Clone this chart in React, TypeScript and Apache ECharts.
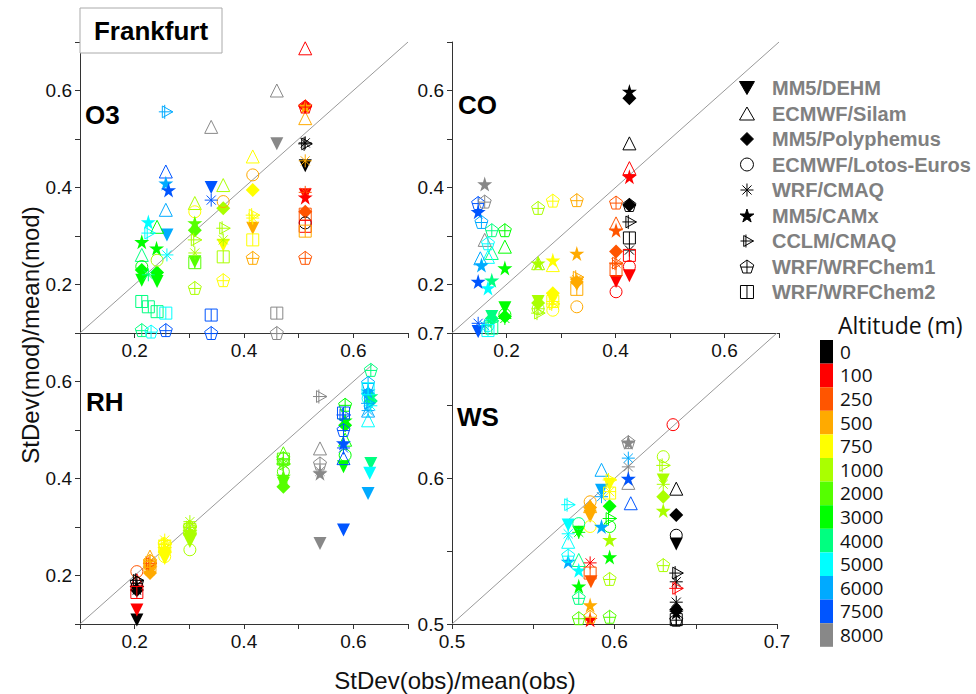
import React, { useEffect, useRef } from 'react';
import * as echarts from 'echarts';

const MODELS = ['MM5/DEHM', 'ECMWF/Silam', 'MM5/Polyphemus', 'ECMWF/Lotos-Euros', 'WRF/CMAQ', 'MM5/CAMx', 'CCLM/CMAQ', 'WRF/WRFChem1', 'WRF/WRFChem2'];
const ALTITUDES = [0, 100, 250, 500, 750, 1000, 2000, 3000, 4000, 5000, 6000, 7500, 8000];
const ALT_COLORS = ['#000000', '#ff0000', '#ff5500', '#ffaa00', '#ffff00', '#aaff00', '#55ff00', '#00ff00', '#00ff80', '#00ffff', '#00aaff', '#0055ff', '#888888'];
const PANEL_NAMES = ['O3', 'CO', 'RH', 'WS'];

// [obs, mod, altitude] per model (same order as MODELS)
const O3_DATA = [
  [[0.512, 0.445, 0], [0.512, 0.385, 100], [0.46, 0.49, 8000], [0.416, 0.316, 500], [0.362, 0.281, 750], [0.34, 0.40, 7500], [0.31, 0.247, 2000], [0.259, 0.302, 6000], [0.241, 0.206, 3000], [0.213, 0.209, 3000]],
  [[0.512, 0.687, 100], [0.512, 0.543, 500], [0.46, 0.60, 8000], [0.416, 0.464, 750], [0.362, 0.405, 1000], [0.34, 0.525, 8000], [0.31, 0.368, 1000], [0.257, 0.433, 7500], [0.257, 0.354, 6000], [0.241, 0.319, 3000], [0.213, 0.261, 4000]],
  [[0.512, 0.567, 100], [0.512, 0.35, 250], [0.416, 0.395, 750], [0.362, 0.357, 1000], [0.31, 0.312, 2000], [0.241, 0.225, 3000], [0.213, 0.23, 3000]],
  [[0.512, 0.327, 0], [0.416, 0.426, 500], [0.362, 0.371, 500], [0.31, 0.35, 750], [0.241, 0.25, 1000], [0.213, 0.237, 3000]],
  [[0.512, 0.492, 0], [0.512, 0.455, 500], [0.512, 0.39, 250], [0.416, 0.337, 750], [0.362, 0.292, 1000], [0.34, 0.374, 7500], [0.31, 0.265, 1000], [0.259, 0.261, 5000], [0.225, 0.22, 4000]],
  [[0.512, 0.567, 500], [0.512, 0.38, 100], [0.31, 0.327, 2000], [0.257, 0.409, 6000], [0.262, 0.395, 7500], [0.225, 0.329, 5000], [0.213, 0.288, 3000], [0.24, 0.275, 3000]],
  [[0.512, 0.49, 0], [0.416, 0.343, 750], [0.362, 0.316, 1000], [0.31, 0.292, 1000], [0.257, 0.556, 6000], [0.225, 0.306, 5000]],
  [[0.512, 0.567, 100], [0.512, 0.255, 250], [0.46, 0.10, 8000], [0.416, 0.255, 500], [0.362, 0.209, 750], [0.34, 0.10, 7500], [0.31, 0.193, 1000], [0.257, 0.106, 7500], [0.213, 0.106, 4000], [0.23, 0.103, 5000]],
  [[0.512, 0.345, 250], [0.512, 0.32, 100], [0.512, 0.31, 500], [0.46, 0.141, 8000], [0.416, 0.292, 750], [0.362, 0.257, 1000], [0.34, 0.137, 7500], [0.31, 0.245, 2000], [0.213, 0.165, 4000], [0.225, 0.154, 4000], [0.241, 0.144, 4000], [0.257, 0.141, 5000]],
];

const CO_DATA = [
  [[0.4255, 0.218, 100], [0.401, 0.206, 100], [0.329, 0.20, 500], [0.285, 0.17, 750], [0.258, 0.165, 1000], [0.197, 0.152, 3000], [0.173, 0.134, 4000], [0.148, 0.103, 7500]],
  [[0.4255, 0.491, 0], [0.4255, 0.44, 100], [0.401, 0.326, 250], [0.285, 0.24, 750], [0.258, 0.244, 1000], [0.197, 0.278, 3000], [0.173, 0.265, 4000], [0.166, 0.257, 5000], [0.152, 0.254, 6000], [0.16, 0.292, 8000]],
  [[0.4255, 0.584, 0], [0.4255, 0.364, 0], [0.401, 0.268, 250], [0.329, 0.205, 500], [0.285, 0.182, 750], [0.258, 0.162, 1000], [0.197, 0.134, 3000], [0.173, 0.13, 4000]],
  [[0.4255, 0.237, 100], [0.401, 0.185, 100], [0.329, 0.154, 500], [0.285, 0.147, 750], [0.258, 0.15, 1000], [0.197, 0.138, 3000], [0.166, 0.115, 5000]],
  [[0.4255, 0.271, 0], [0.401, 0.244, 250], [0.329, 0.21, 500], [0.285, 0.165, 750], [0.258, 0.15, 1000], [0.197, 0.13, 3000], [0.148, 0.12, 7500], [0.16, 0.115, 6000]],
  [[0.4255, 0.598, 0], [0.4255, 0.422, 100], [0.401, 0.312, 250], [0.329, 0.264, 500], [0.285, 0.25, 750], [0.258, 0.244, 1000], [0.197, 0.234, 3000], [0.173, 0.209, 4000], [0.166, 0.193, 5000], [0.154, 0.24, 6000], [0.148, 0.206, 7500], [0.148, 0.35, 7500], [0.16, 0.407, 8000]],
  [[0.4255, 0.329, 0], [0.401, 0.244, 250], [0.329, 0.215, 500], [0.285, 0.16, 750], [0.258, 0.141, 1000], [0.173, 0.125, 4000]],
  [[0.4255, 0.364, 0], [0.401, 0.369, 250], [0.329, 0.374, 500], [0.285, 0.373, 750], [0.258, 0.358, 1000], [0.197, 0.312, 3000], [0.173, 0.312, 4000], [0.166, 0.285, 5000], [0.154, 0.329, 6000], [0.148, 0.368, 7500], [0.16, 0.371, 8000]],
  [[0.4255, 0.296, 0], [0.4255, 0.26, 100], [0.401, 0.23, 250], [0.329, 0.19, 500], [0.285, 0.165, 750], [0.173, 0.11, 4000], [0.166, 0.105, 5000]],
];

const RH_DATA = [
  [[0.204, 0.108, 0], [0.204, 0.129, 100], [0.228, 0.21, 500], [0.255, 0.235, 750], [0.301, 0.27, 1000], [0.472, 0.39, 2000], [0.539, 0.266, 8000], [0.582, 0.424, 3000], [0.582, 0.294, 7500], [0.632, 0.431, 4000], [0.63, 0.411, 5000], [0.627, 0.369, 6000]],
  [[0.204, 0.19, 100], [0.228, 0.239, 500], [0.255, 0.26, 750], [0.301, 0.30, 1000], [0.472, 0.452, 2000], [0.539, 0.462, 8000], [0.582, 0.442, 7500], [0.585, 0.48, 3000], [0.627, 0.52, 5000], [0.627, 0.54, 6000]],
  [[0.204, 0.17, 0], [0.228, 0.205, 500], [0.255, 0.25, 750], [0.301, 0.285, 1000], [0.472, 0.383, 2000], [0.585, 0.51, 3000], [0.632, 0.56, 4000], [0.627, 0.575, 6000]],
  [[0.204, 0.208, 250], [0.228, 0.22, 500], [0.255, 0.239, 750], [0.301, 0.253, 1000], [0.472, 0.414, 2000], [0.585, 0.448, 3000], [0.627, 0.565, 5000]],
  [[0.204, 0.18, 100], [0.228, 0.23, 500], [0.255, 0.273, 750], [0.301, 0.311, 1000], [0.472, 0.43, 2000], [0.539, 0.415, 8000], [0.582, 0.463, 7500], [0.627, 0.54, 6000], [0.632, 0.55, 5000]],
  [[0.204, 0.175, 0], [0.228, 0.215, 500], [0.255, 0.255, 750], [0.301, 0.29, 1000], [0.472, 0.404, 2000], [0.539, 0.411, 8000], [0.582, 0.473, 7500], [0.585, 0.52, 3000], [0.632, 0.57, 4000], [0.627, 0.58, 6000]],
  [[0.204, 0.19, 0], [0.228, 0.225, 250], [0.255, 0.265, 750], [0.301, 0.30, 1000], [0.472, 0.43, 2000], [0.539, 0.569, 8000], [0.582, 0.531, 7500], [0.627, 0.555, 6000]],
  [[0.204, 0.185, 0], [0.228, 0.23, 500], [0.255, 0.265, 750], [0.301, 0.30, 1000], [0.472, 0.442, 2000], [0.539, 0.431, 8000], [0.585, 0.552, 3000], [0.582, 0.50, 7500], [0.632, 0.624, 4000], [0.627, 0.597, 6000]],
  [[0.204, 0.165, 100], [0.228, 0.22, 500], [0.255, 0.26, 750], [0.301, 0.295, 1000], [0.472, 0.44, 2000], [0.582, 0.535, 7500], [0.627, 0.585, 5000]],
];

const WS_DATA = [
  [[0.638, 0.555, 0], [0.63, 0.599, 1000], [0.585, 0.574, 500], [0.5855, 0.529, 250], [0.597, 0.596, 750], [0.592, 0.592, 6000], [0.578, 0.563, 3000], [0.5715, 0.568, 5000]],
  [[0.638, 0.593, 0], [0.61, 0.583, 7500], [0.6085, 0.597, 8000], [0.592, 0.606, 6000], [0.585, 0.581, 500], [0.578, 0.544, 4000], [0.5715, 0.5565, 5000]],
  [[0.638, 0.575, 0], [0.638, 0.51, 0], [0.63, 0.5875, 1000], [0.597, 0.581, 3000], [0.585, 0.58, 500]],
  [[0.638, 0.561, 0], [0.636, 0.637, 100], [0.63, 0.615, 1000], [0.597, 0.567, 3000], [0.585, 0.584, 500], [0.585, 0.567, 750], [0.578, 0.569, 4000]],
  [[0.638, 0.529, 0], [0.638, 0.515, 0], [0.63, 0.596, 1000], [0.6085, 0.608, 8000], [0.6085, 0.614, 6000], [0.597, 0.591, 750], [0.592, 0.5875, 6000], [0.585, 0.542, 100], [0.578, 0.563, 3000], [0.5715, 0.562, 5000]],
  [[0.638, 0.508, 0], [0.63, 0.578, 1000], [0.6085, 0.625, 8000], [0.6085, 0.60, 7500], [0.597, 0.558, 1000], [0.597, 0.546, 3000], [0.592, 0.567, 6000], [0.585, 0.513, 500], [0.585, 0.503, 100], [0.578, 0.526, 3000], [0.5715, 0.543, 6000], [0.578, 0.537, 5000]],
  [[0.638, 0.535, 0], [0.638, 0.5245, 100], [0.63, 0.609, 1000], [0.597, 0.5725, 3000], [0.5715, 0.582, 5000], [0.597, 0.599, 750]],
  [[0.638, 0.503, 0], [0.63, 0.5405, 1000], [0.6085, 0.625, 8000], [0.597, 0.531, 1000], [0.597, 0.505, 2000], [0.585, 0.505, 500], [0.578, 0.504, 2000], [0.5715, 0.547, 5000], [0.578, 0.518, 4000]],
  [[0.638, 0.503, 0], [0.585, 0.535, 250], [0.597, 0.59, 750]],
];

// axis ranges: [min, max, tick interval]
const AXIS_RANGES = [[0.1, 0.7, 0.1], [0.1, 0.7, 0.1], [0.1, 0.7, 0.1], [0.5, 0.7, 0.05]];
const DIAGONALS = [[0.1, 0.7], [0.1, 0.7], [0.1, 0.636], [0.5, 0.7]];

const STAR = 'path://M50,0 L61,35 L98,35 L68,57 L79,91 L50,70 L21,91 L32,57 L2,35 L39,35 Z';
const SYMBOLS = [
  'path://M0,0 L100,0 L50,87 Z',
  'path://M50,0 L100,87 L0,87 Z',
  'path://M50,0 L100,50 L50,100 L0,50 Z',
  'path://M0,50 A50,50 0 1 1 100,50 A50,50 0 1 1 0,50 Z',
  'path://M50,0 L50,100 M0,50 L100,50 M15,15 L85,85 M85,15 L15,85',
  STAR,
  'path://M25,8 L100,50 L25,92 Z M0,50 L100,50 M42,0 L42,100',
  'path://M50,0 L98,35 L79,92 L21,92 L2,35 Z M50,0 L50,92 M6,50 L94,50',
  'path://M0,0 L100,0 L100,100 L0,100 Z M50,0 L50,100',
];
const FILLED = [true, false, true, false, false, true, false, false, false];
const SIZES = [13, 13, 14, 12, 13, 15, 14, 13, 12];

const GRIDS = [
  { left: 80, top: 42, width: 328, height: 291 },
  { left: 452, top: 42, width: 327, height: 291 },
  { left: 80, top: 333, width: 328, height: 291 },
  { left: 452, top: 333, width: 325, height: 291 },
];
const PANEL_LABEL_POS = [[85, 115], [458, 105], [86, 402], [457, 417]];

function colorOf(a: number) {
  const i = ALTITUDES.indexOf(a);
  return ALT_COLORS[i < 0 ? 0 : i];
}

const AX_FONT = 'Liberation Sans, Arial, sans-serif';

function buildOption() {
  const panels = [O3_DATA, CO_DATA, RH_DATA, WS_DATA];
  const xAxis: any[] = [];
  const yAxis: any[] = [];
  const series: any[] = [];

  panels.forEach((pd, gi) => {
    const [mn, mx, iv] = AXIS_RANGES[gi];
    const isWS = gi === 3;
    const fmt = (v: number) => {
      if (isWS) {
        return Math.abs(v * 10 - Math.round(v * 10)) < 1e-6 ? v.toFixed(1) : '';
      }
      const k = Math.round(v * 10);
      return k % 2 === 0 ? v.toFixed(1) : '';
    };
    const common = {
      type: 'value', gridIndex: gi, min: mn, max: mx, interval: iv,
      axisLine: { show: true, onZero: false, lineStyle: { color: '#333', width: 1 } },
      axisTick: { show: true, length: 5, inside: false, lineStyle: { color: '#333' } },
      splitLine: { show: false },
    };
    xAxis.push({
      ...common,
      axisLabel: { formatter: fmt, fontSize: 19, fontFamily: AX_FONT, color: '#111', margin: 8, showMinLabel: true, showMaxLabel: true },
    });
    yAxis.push({
      ...common,
      axisLabel: { formatter: fmt, fontSize: 19, fontFamily: AX_FONT, color: '#111', margin: 8, showMinLabel: true, showMaxLabel: true },
    });
    const [d0, d1] = DIAGONALS[gi];
    series.push({
      type: 'line', name: 'diag' + gi, xAxisIndex: gi, yAxisIndex: gi, silent: true,
      data: [[d0, d0], [d1, d1]], showSymbol: false, symbol: 'none',
      lineStyle: { color: '#999', width: 1 }, z: 1,
    });
    pd.forEach((pts, mi) => {
      series.push({
        type: 'scatter', name: MODELS[mi], xAxisIndex: gi, yAxisIndex: gi,
        symbol: SYMBOLS[mi], symbolSize: SIZES[mi], z: 2,
        itemStyle: FILLED[mi]
          ? { color: '#000', borderColor: '#000', borderWidth: 0, opacity: 1 }
          : { color: 'rgba(0,0,0,0)', borderColor: '#000', borderWidth: 1, opacity: 1 },
        emphasis: { disabled: true },
        data: pts.map(([x, y, a]) => ({
          value: [x, y, a],
          itemStyle: FILLED[mi] ? { color: colorOf(a) } : { borderColor: colorOf(a) },
        })),
      });
    });
  });

  const dummyIdx = series.length;
  series.push({ type: 'scatter', name: 'altitude', xAxisIndex: 0, yAxisIndex: 0, data: [] });

  const graphic: any[] = [
    {
      type: 'rect', shape: { x: 80, y: 8, width: 142, height: 45 }, z: 100,
      style: { fill: '#fff', stroke: '#aaa', lineWidth: 1 },
    },
    {
      type: 'text', x: 151, y: 31, z: 101,
      style: { text: 'Frankfurt', fontSize: 26, fontWeight: 'bold', fontFamily: AX_FONT, fill: '#000', textAlign: 'center', textVerticalAlign: 'middle' },
    },
    {
      type: 'text', x: 30, y: 335, rotation: Math.PI / 2, z: 100,
      style: { text: 'StDev(mod)/mean(mod)', fontSize: 24, fontFamily: AX_FONT, fill: '#111', textAlign: 'center', textVerticalAlign: 'middle' },
    },
    {
      type: 'text', x: 455, y: 680, z: 100,
      style: { text: 'StDev(obs)/mean(obs)', fontSize: 24, fontFamily: AX_FONT, fill: '#111', textAlign: 'center', textVerticalAlign: 'middle' },
    },
    {
      type: 'text', x: 838, y: 325, z: 100,
      style: { text: 'Altitude (m)', fontSize: 23, fontFamily: 'Open Sans, sans-serif', fill: '#111', textAlign: 'left', textVerticalAlign: 'middle' },
    },
  ];
  PANEL_NAMES.forEach((n, i) => {
    graphic.push({
      type: 'text', x: PANEL_LABEL_POS[i][0], y: PANEL_LABEL_POS[i][1], z: 100,
      style: { text: n, fontSize: 26, fontWeight: 'bold', fontFamily: AX_FONT, fill: '#000', textAlign: 'left', textVerticalAlign: 'middle' },
    });
  });

  return {
    animation: false,
    backgroundColor: '#fff',
    grid: GRIDS.map((g) => ({ ...g, containLabel: false, show: false })),
    xAxis,
    yAxis,
    series,
    legend: {
      data: MODELS, orient: 'vertical', left: 734, top: 73,
      itemWidth: 40, itemHeight: 13, itemGap: 5.5, symbolKeepAspect: true,
      selectedMode: false,
      itemStyle: { borderWidth: 1 },
      textStyle: { fontFamily: AX_FONT, fontSize: 20, fontWeight: 'bold', color: '#808080' },
    },
    visualMap: {
      type: 'piecewise', seriesIndex: dummyIdx, dimension: 2, orient: 'vertical', align: 'left',
      left: 805, top: 325, itemWidth: 13, itemHeight: 23.6, itemGap: 0, itemSymbol: 'rect',
      showLabel: true, textGap: 7, selectedMode: false, inverse: true,
      textStyle: { fontFamily: 'Open Sans, sans-serif', fontSize: 19, lineHeight: 20, color: '#111' },
      pieces: ALTITUDES.map((a, i) => ({ value: a, label: String(a), color: ALT_COLORS[i] })),
    },
    graphic,
  };
}

export default function App() {
  const ref = useRef<HTMLDivElement>(null);
  useEffect(() => {
    if (!ref.current) return;
    const chart = echarts.init(ref.current, undefined, { renderer: 'svg' });
    chart.setOption(buildOption() as any);
    return () => chart.dispose();
  }, []);
  return <div ref={ref} style={{ position: 'fixed', left: 0, top: 0, width: 976, height: 694, background: '#fff' }} />;
}
